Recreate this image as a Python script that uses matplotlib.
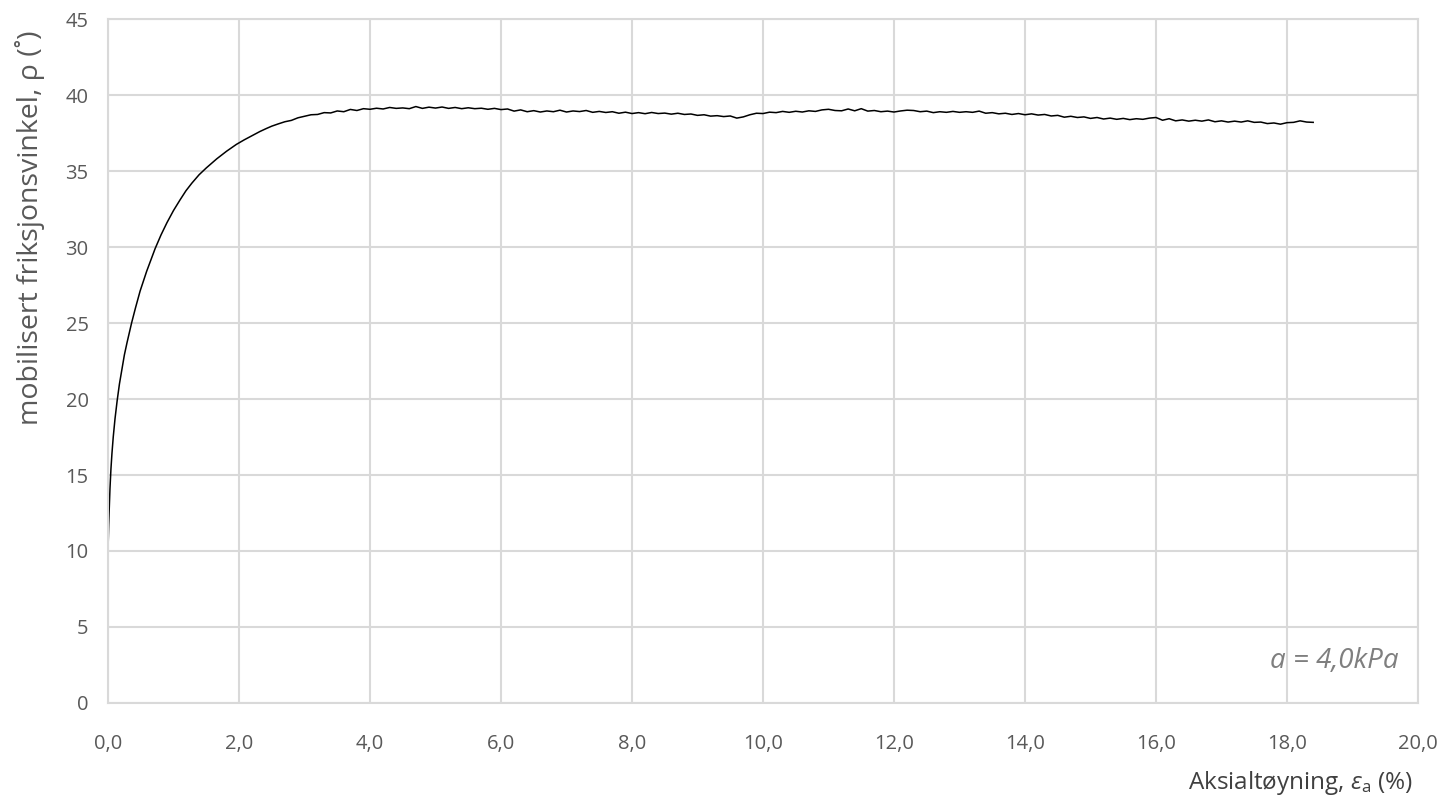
import matplotlib
matplotlib.use("Agg")
import matplotlib.pyplot as plt

plt.rcParams['font.family'] = ['Open Sans', 'DejaVu Sans']
plt.rcParams['mathtext.fontset'] = 'custom'
plt.rcParams['mathtext.rm'] = 'Open Sans'
plt.rcParams['mathtext.it'] = 'Open Sans:italic'

# initial rise (strain %, angle deg)
strain_rise = [0.0, 0.005, 0.01, 0.02, 0.03, 0.045, 0.06, 0.08, 0.107, 0.14,
               0.175, 0.21, 0.25, 0.29, 0.36, 0.42, 0.49, 0.59, 0.72, 0.81,
               0.9, 1.0, 1.1, 1.19, 1.28, 1.39, 1.5, 1.58, 1.66, 1.81,
               1.96, 2.08, 2.21, 2.32, 2.42, 2.5]
rho_rise = [10.0, 10.9, 11.7, 13.0, 14.1, 15.4, 16.4, 17.5, 18.7, 19.9,
            21.0, 21.9, 22.9, 23.7, 25.0, 26.0, 27.1, 28.4, 29.9, 30.8,
            31.6, 32.4, 33.1, 33.7, 34.2, 34.75, 35.2, 35.5, 35.8, 36.3,
            36.75, 37.05, 37.35, 37.6, 37.8, 37.95]

# plateau (measured, noisy)
strain_plat = [2.6, 2.7, 2.8, 2.9, 3.0, 3.1, 3.2, 3.3, 3.4, 3.5, 3.6, 3.7, 3.8, 3.9,
               4.0, 4.1, 4.2, 4.3, 4.4, 4.5, 4.6, 4.7, 4.8, 4.9,
               5.0, 5.1, 5.2, 5.3, 5.4, 5.5, 5.6, 5.7, 5.8, 5.9,
               6.0, 6.1, 6.2, 6.3, 6.4, 6.5, 6.6, 6.7, 6.8, 6.9,
               7.0, 7.1, 7.2, 7.3, 7.4, 7.5, 7.6, 7.7, 7.8, 7.9,
               8.0, 8.1, 8.2, 8.3, 8.4, 8.5, 8.6, 8.7, 8.8, 8.9,
               9.0, 9.1, 9.2, 9.3, 9.4, 9.5, 9.6, 9.7, 9.8, 9.9,
               10.0, 10.1, 10.2, 10.3, 10.4, 10.5, 10.6, 10.7, 10.8, 10.9,
               11.0, 11.1, 11.2, 11.3, 11.4, 11.5, 11.6, 11.7, 11.8, 11.9,
               12.0, 12.1, 12.2, 12.3, 12.4, 12.5, 12.6, 12.7, 12.8, 12.9,
               13.0, 13.1, 13.2, 13.3, 13.4, 13.5, 13.6, 13.7, 13.8, 13.9,
               14.0, 14.1, 14.2, 14.3, 14.4, 14.5, 14.6, 14.7, 14.8, 14.9,
               15.0, 15.1, 15.2, 15.3, 15.4, 15.5, 15.6, 15.7, 15.8, 15.9,
               16.0, 16.1, 16.2, 16.3, 16.4, 16.5, 16.6, 16.7, 16.8, 16.9,
               17.0, 17.1, 17.2, 17.3, 17.4, 17.5, 17.6, 17.7, 17.8, 17.9,
               18.0, 18.1, 18.2, 18.3, 18.4]
rho_plat = [38.10, 38.24, 38.33, 38.50, 38.60, 38.70, 38.72, 38.84, 38.82, 38.95, 38.90, 39.05, 38.98, 39.10,
            39.06, 39.13, 39.08, 39.18, 39.12, 39.15, 39.10, 39.24, 39.12, 39.20,
            39.14, 39.21, 39.12, 39.18, 39.10, 39.16, 39.10, 39.13, 39.06, 39.12,
            39.04, 39.08, 38.94, 39.02, 38.90, 38.97, 38.88, 38.95, 38.90, 39.00,
            38.88, 38.95, 38.91, 38.98, 38.86, 38.92, 38.85, 38.90, 38.80, 38.87,
            38.78, 38.84, 38.77, 38.85, 38.78, 38.81, 38.74, 38.80, 38.72, 38.75,
            38.66, 38.70, 38.61, 38.64, 38.58, 38.62, 38.48, 38.56, 38.70, 38.80,
            38.78, 38.87, 38.84, 38.92, 38.86, 38.93, 38.88, 38.96, 38.92, 39.02,
            39.06, 38.98, 38.96, 39.08, 38.96, 39.10, 38.94, 38.98, 38.90, 38.94,
            38.88, 38.95, 39.00, 38.98, 38.90, 38.94, 38.84, 38.90, 38.86, 38.92,
            38.86, 38.90, 38.86, 38.94, 38.80, 38.84, 38.76, 38.80, 38.72, 38.78,
            38.70, 38.76, 38.68, 38.72, 38.62, 38.66, 38.54, 38.60, 38.52, 38.56,
            38.46, 38.52, 38.42, 38.48, 38.40, 38.46, 38.38, 38.44, 38.40, 38.48,
            38.52, 38.34, 38.44, 38.30, 38.36, 38.28, 38.34, 38.28, 38.36, 38.24,
            38.30, 38.22, 38.28, 38.22, 38.30, 38.20, 38.22, 38.12, 38.16, 38.08,
            38.18, 38.20, 38.30, 38.22, 38.20]

x_ticks = [0, 2, 4, 6, 8, 10, 12, 14, 16, 18, 20]
x_labels = ['0,0', '2,0', '4,0', '6,0', '8,0', '10,0', '12,0', '14,0', '16,0', '18,0', '20,0']
y_ticks = [0, 5, 10, 15, 20, 25, 30, 35, 40, 45]

grid_c = '#d9d9d9'
text_c = '#595959'

fig = plt.figure(figsize=(14.43, 8.07), dpi=100)
ax = fig.add_axes([108 / 1443, 104 / 807, 1310 / 1443, 684 / 807])

ax.plot(strain_rise + strain_plat, rho_rise + rho_plat, color='black', lw=1.1)

ax.set_xlim(0, 20)
ax.set_ylim(0, 45)
ax.set_xticks(x_ticks, x_labels)
ax.set_yticks(y_ticks)
ax.tick_params(axis='x', length=0, labelsize=14.5, labelcolor=text_c, pad=22)
ax.tick_params(axis='y', length=0, labelsize=14.5, labelcolor=text_c, pad=14)
ax.grid(True, color=grid_c, lw=1.5)
ax.set_axisbelow(True)
for s in ax.spines.values():
    s.set_color(grid_c)
    s.set_linewidth(1.5)

ax.text(0.985, 0.062, 'a = 4,0kPa', transform=ax.transAxes, ha='right', va='center',
        fontsize=20, style='italic', color='#7f7f7f')

fig.text(30 / 1443, 1 - 228 / 807, 'mobilisert friksjonsvinkel, ρ (˚)', rotation=90,
         ha='center', va='center', fontsize=20.5, color=text_c)
fig.text(1413 / 1443, 1 - 783 / 807, r'Aksialtøyning, $\epsilon_\mathregular{a}$ (%)',
         ha='right', va='center', fontsize=17.5, color='#404040')

fig.savefig('out.png', dpi=100)
